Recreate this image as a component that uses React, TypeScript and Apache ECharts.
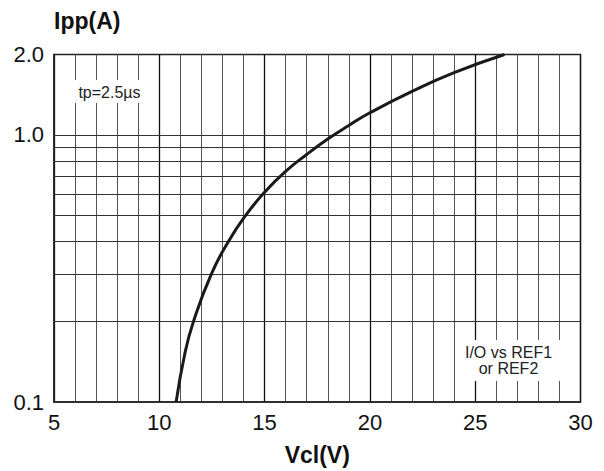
import React, { useEffect, useRef } from "react";
import * as echarts from "echarts";

// Curve: clamping voltage (V) vs peak pulse current (A)
const vcl = [10.8, 11.2, 11.62, 12.46, 13.29, 14.1, 15.0, 16.0, 17.0, 18.0, 19.0, 20.0, 22.0, 24.0, 26.39];
const ipp = [0.1, 0.15, 0.2, 0.3, 0.4, 0.5, 0.61, 0.73, 0.845, 0.965, 1.085, 1.21, 1.455, 1.71, 2.0];

// Horizontal grid (log) values
const yGridValues = [0.2, 0.3, 0.4, 0.5, 0.6, 0.7, 0.8, 0.9, 1.0];

// Axis ranges / labels
const xMin = 5;
const xMax = 30;
const xInterval = 5;
const yMin = 0.1;
const yMax = 2.0;
const xName = "Vcl(V)";
const yName = "Ipp(A)";
const note1 = "tp=2.5\u00b5s";
const note2 = "I/O vs REF1\nor REF2";

const FONT = "'Liberation Sans', Arial, Helvetica, sans-serif";

export default function App() {
  const ref = useRef<HTMLDivElement>(null);

  useEffect(() => {
    if (!ref.current) return;
    const chart = echarts.init(ref.current, undefined, { renderer: "svg" });
    const pts = vcl.map((v, i) => [v, ipp[i]]);

    chart.setOption({
      animation: false,
      backgroundColor: "#ffffff",
      textStyle: { fontFamily: FONT },
      grid: {
        left: 54,
        right: 23.5,
        top: 54.5,
        bottom: 66.5,
        show: true,
        borderColor: "#222",
        borderWidth: 1.3,
        backgroundColor: "transparent",
      },
      xAxis: {
        type: "value",
        min: xMin,
        max: xMax,
        interval: xInterval,
        name: xName,
        nameLocation: "middle",
        nameGap: 52.5,
        nameTextStyle: {
          fontFamily: FONT,
          fontSize: 23,
          fontWeight: "bold",
          color: "#111",
          verticalAlign: "middle",
        },
        axisLine: { show: true, lineStyle: { color: "#222", width: 1.5 } },
        axisTick: { show: false },
        minorTick: { show: false, splitNumber: 5 },
        axisLabel: {
          fontFamily: FONT,
          fontSize: 22,
          color: "#111",
          margin: 9,
        },
        splitLine: { show: true, lineStyle: { color: "#111", width: 1.3 } },
        minorSplitLine: { show: true, lineStyle: { color: "#555", width: 1 } },
      },
      yAxis: {
        type: "log",
        logBase: 10,
        min: yMin,
        max: yMax,
        axisLine: { show: true, lineStyle: { color: "#222", width: 1.5 } },
        axisTick: { show: false },
        axisLabel: {
          fontFamily: FONT,
          fontSize: 22,
          color: "#111",
          margin: 10,
          formatter: (v: number) => v.toFixed(1),
        },
        splitLine: { show: false },
      },
      series: [
        {
          type: "line",
          data: pts,
          z: 1,
          silent: true,
          showSymbol: false,
          symbol: "none",
          lineStyle: { opacity: 0 },
          markLine: {
            silent: true,
            symbol: ["none", "none"],
            label: { show: false },
            lineStyle: { type: "solid", color: "#333", width: 1 },
            data: yGridValues.map((v) => ({ yAxis: v })),
          },
        },
        {
          type: "line",
          data: pts,
          z: 5,
          smooth: 0.5,
          symbol: "none",
          showSymbol: false,
          lineStyle: { color: "#1a1a1a", width: 3 },
        },
      ],
      graphic: [
        {
          type: "text",
          z: 101,
          x: 54,
          y: 21,
          style: {
            text: yName,
            fontFamily: FONT,
            fontSize: 23,
            fontWeight: "bold",
            fill: "#111",
            align: "left",
            verticalAlign: "middle",
          },
        },
        {
          type: "rect",
          z: 100,
          shape: { x: 66, y: 80, width: 90, height: 23 },
          style: { fill: "#ffffff" },
        },
        {
          type: "text",
          z: 101,
          x: 109.5,
          y: 92,
          style: {
            text: note1,
            fontFamily: FONT,
            fontSize: 16,
            fill: "#222",
            align: "center",
            verticalAlign: "middle",
          },
        },
        {
          type: "rect",
          z: 100,
          shape: { x: 461, y: 340, width: 110, height: 41 },
          style: { fill: "#ffffff" },
        },
        {
          type: "text",
          z: 101,
          x: 508.5,
          y: 360.5,
          style: {
            text: note2,
            fontFamily: FONT,
            fontSize: 16,
            lineHeight: 16.5,
            fill: "#222",
            align: "center",
            verticalAlign: "middle",
          },
        },
      ],
    });

    return () => chart.dispose();
  }, []);

  return (
    <div
      ref={ref}
      style={{ position: "fixed", left: 0, top: 0, width: 604, height: 471 }}
    />
  );
}
